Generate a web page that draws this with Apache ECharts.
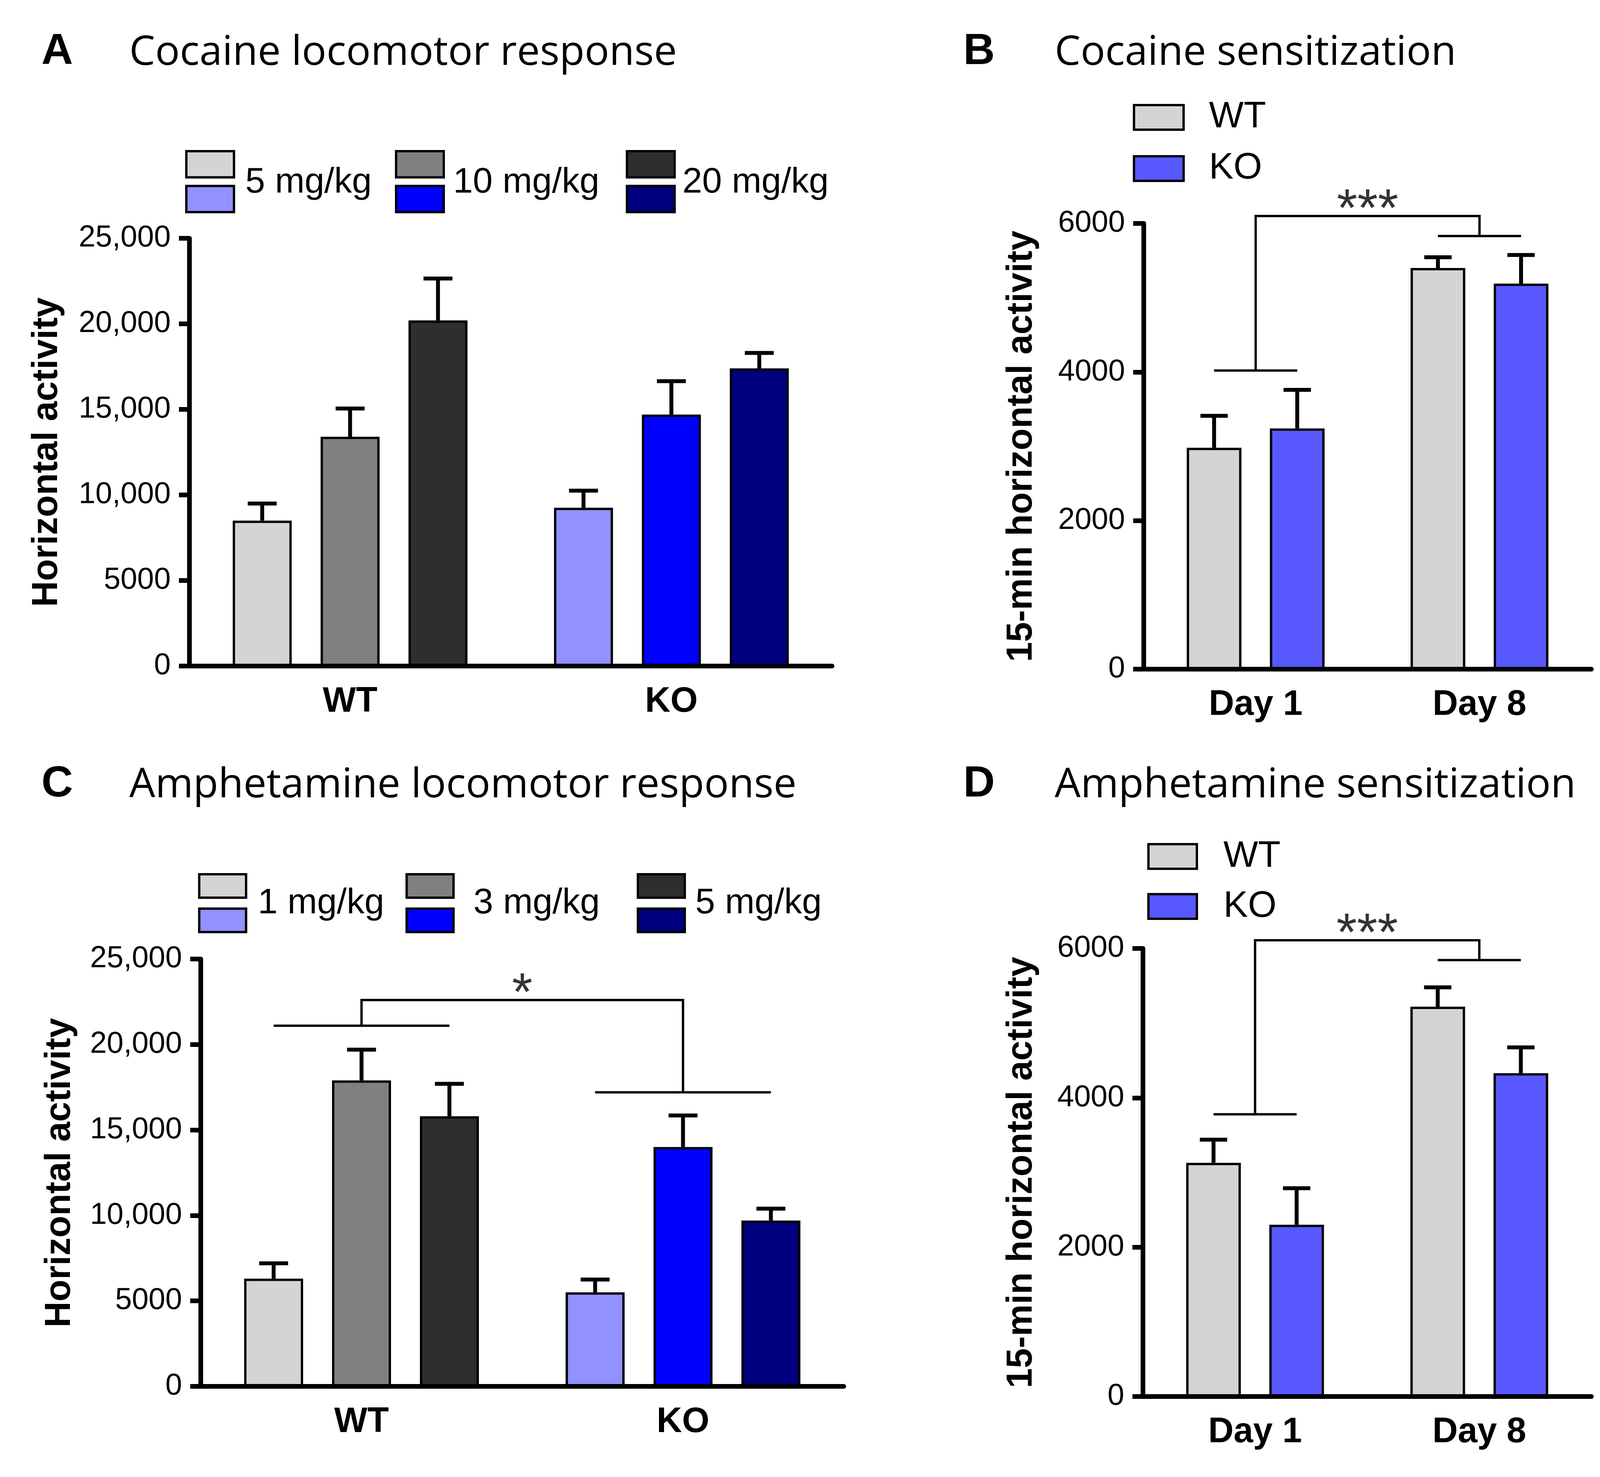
<!DOCTYPE html>
<html>
<head>
<meta charset="utf-8">
<script src="https://cdn.jsdelivr.net/npm/echarts@6/dist/echarts.min.js"></script>
<style>html,body{margin:0;padding:0;background:#fff}#c{width:4184px;height:3781px}</style>
</head>
<body>
<div id="c"></div>
<script>
// ---------- data ----------
const genotypes = ['WT', 'KO'];
const days = ['Day 1', 'Day 8'];
const cocaineDoses = ['5 mg/kg', '10 mg/kg', '20 mg/kg'];
const amphDoses = ['1 mg/kg', '3 mg/kg', '5 mg/kg'];
const locoTicks = ['0', '5000', '10,000', '15,000', '20,000', '25,000'];
const sensTicks = ['0', '2000', '4000', '6000'];

// Panel A: cocaine locomotor response, per dose [WT, KO]
const cocLocoMean = [[8500, 9250], [13400, 14700], [20200, 17400]];
const cocLocoSem  = [[1000, 1000], [1650, 1950], [2450, 900]];
// Panel C: amphetamine locomotor response, per dose [WT, KO]
const ampLocoMean = [[6300, 5500], [17900, 14000], [15800, 9700]];
const ampLocoSem  = [[900, 750], [1800, 1850], [1900, 700]];
// Panel B: cocaine sensitization [Day 1, Day 8]
const cocSensWT = [2980, 5400];
const cocSensKO = [3240, 5190];
const cocSensWTSem = [430, 145];
const cocSensKOSem = [520, 385];
// Panel D: amphetamine sensitization [Day 1, Day 8]
const ampSensWT = [3130, 5220];
const ampSensKO = [2300, 4330];
const ampSensWTSem = [310, 260];
const ampSensKOSem = [490, 345];
// significance brackets: [left group line, top line, right group line]
const bracketB = [4020, 6100, 5830];
const bracketC = [21100, 22600, 17200];
const bracketD = [3780, 6110, 5845];

// ---------- styles ----------
const greyColors = ['#d4d4d4', '#808080', '#2e2e2e'];
const blueColors = ['#9191ff', '#0000ff', '#000080'];
const wtColor = '#d4d4d4';
const koColor = '#5858ff';
const AR = '"Liberation Sans", Arial, sans-serif';
const TITLE = '"Open Sans", "Noto Sans", sans-serif';

const BW_L = 151, GAP_L = 0.49;   // locomotor panels
const BW_S = 140, GAP_S = 0.52;   // sensitization panels

const grids = [
  {left: 485, top: 610, width: 1645, height: 1095},
  {left: 2928, top: 572, width: 1146, height: 1141},
  {left: 514, top: 2455, width: 1646, height: 1094},
  {left: 2926, top: 2428, width: 1148, height: 1147}
];

const chart = echarts.init(document.getElementById('c'), null, {width: 4184, height: 3781});

function catAxis(gi, data) {
  return {
    type: 'category', gridIndex: gi, data: data,
    axisLine: {lineStyle: {color: '#000', width: 12}},
    axisTick: {alignWithLabel: true, length: 27, lineStyle: {color: '#000', width: 12}},
    axisLabel: {color: '#000', fontFamily: AR, fontWeight: 'bold', fontSize: 90, margin: 47}
  };
}
function valAxis(gi, max, interval, ticks, name, gap) {
  return {
    type: 'value', gridIndex: gi, min: 0, max: max, interval: interval,
    splitLine: {show: false},
    axisLine: {show: true, lineStyle: {color: '#000', width: 12}},
    axisTick: {show: true, length: 27, lineStyle: {color: '#000', width: 12}},
    axisLabel: {color: '#000', fontFamily: AR, fontSize: 77, margin: 48,
      formatter: v => ticks[Math.round(v / interval)]},
    name: name, nameLocation: 'middle', nameRotate: 90, nameGap: gap,
    nameTextStyle: {color: '#000', fontFamily: AR, fontWeight: 'bold', fontSize: 92}
  };
}
function hiddenX(gi) {
  return {type: 'value', gridIndex: gi, min: 0, max: 2, show: false};
}

function errRender(step, nBars, capHalf) {
  return function (params, api) {
    const cat = api.value(0), idx = api.value(1);
    const base = api.coord([cat, api.value(2)]);
    const top = api.coord([cat, api.value(3)]);
    const x = base[0] + (idx - (nBars - 1) / 2) * step;
    const style = {stroke: '#000', lineWidth: 10};
    return {type: 'group', children: [
      {type: 'line', shape: {x1: x, y1: base[1], x2: x, y2: top[1]}, style: style},
      {type: 'line', shape: {x1: x - capHalf, y1: top[1], x2: x + capHalf, y2: top[1]}, style: style}
    ]};
  };
}

const series = [];
function addLoco(gi, doses, mean, sem) {
  doses.forEach((d, i) => {
    series.push({
      type: 'bar', name: d, xAxisIndex: gi, yAxisIndex: gi,
      barWidth: BW_L, barGap: (GAP_L * 100) + '%',
      data: mean[i].map((v, g) => ({value: v, itemStyle: {color: g === 0 ? greyColors[i] : blueColors[i]}})),
      itemStyle: {borderColor: '#000', borderWidth: 6},
      silent: true
    });
  });
  const err = [];
  doses.forEach((d, i) => mean[i].forEach((v, g) => err.push([g, i, v, v + sem[i][g]])));
  series.push({
    type: 'custom', xAxisIndex: gi, yAxisIndex: gi, data: err, encode: {x: 0, y: 3},
    renderItem: errRender(BW_L * (1 + GAP_L), doses.length, 37), silent: true, z: 3
  });
}
addLoco(0, cocaineDoses, cocLocoMean, cocLocoSem);
addLoco(2, amphDoses, ampLocoMean, ampLocoSem);

function addSens(gi, wt, ko, wtSem, koSem) {
  [[wt, wtColor, 'WT'], [ko, koColor, 'KO']].forEach(([vals, col, nm]) => {
    series.push({
      type: 'bar', name: nm, xAxisIndex: gi, yAxisIndex: gi,
      barWidth: BW_S, barGap: (GAP_S * 100) + '%',
      data: vals, itemStyle: {color: col, borderColor: '#000', borderWidth: 6}, silent: true
    });
  });
  const err = [];
  [wt, ko].forEach((vals, i) => vals.forEach((v, c) => err.push([c, i, v, v + (i === 0 ? wtSem : koSem)[c]])));
  series.push({
    type: 'custom', xAxisIndex: gi, yAxisIndex: gi, data: err, encode: {x: 0, y: 3},
    renderItem: errRender(BW_S * (1 + GAP_S), 2, 35), silent: true, z: 3
  });
}
addSens(1, cocSensWT, cocSensKO, cocSensWTSem, cocSensKOSem);
addSens(3, ampSensWT, ampSensKO, ampSensWTSem, ampSensKOSem);

// significance brackets on hidden value x-axes (category k centred at k+0.5)
function addBracket(xi, yi, yv, halfSpan, stars) {
  const lines = [
    [[0.5 - halfSpan, yv[0]], [0.5 + halfSpan, yv[0]]],
    [[0.5, yv[0]], [0.5, yv[1]], [1.5, yv[1]], [1.5, yv[2]]],
    [[1.5 - halfSpan, yv[2]], [1.5 + halfSpan, yv[2]]]
  ];
  series.push({
    type: 'lines', coordinateSystem: 'cartesian2d', xAxisIndex: xi, yAxisIndex: yi,
    polyline: true, clip: false, silent: true,
    lineStyle: {color: '#000', width: 6, opacity: 1, curveness: 0},
    data: lines.map(c => ({coords: c}))
  });
  series.push({
    type: 'scatter', xAxisIndex: xi, yAxisIndex: yi, clip: false, silent: true,
    symbolSize: 0, data: [[1, yv[1]]],
    label: {show: true, formatter: stars, position: 'top', distance: 0, offset: [0, 55],
      color: '#000', fontFamily: AR, fontSize: 135}
  });
}
addBracket(4, 1, bracketB, BW_S * (1 + GAP_S) / 2 / (grids[1].width / 2), '***');
addBracket(5, 2, bracketC, BW_L * (1 + GAP_L) / (grids[2].width / 2), '*');
addBracket(6, 3, bracketD, BW_S * (1 + GAP_S) / 2 / (grids[3].width / 2), '***');

// ---------- titles and legends ----------
const graphics = [];
function txt(x, y, s, size, fam, weight) {
  graphics.push({type: 'text', x: x, y: y, style: {text: s, fill: '#000', font: (weight || 'normal') + ' ' + size + 'px ' + fam, textVerticalAlign: 'middle', textAlign: 'left'}});
}
function box(x, y, w, h, col) {
  graphics.push({type: 'rect', shape: {x: x, y: y, width: w, height: h}, style: {fill: col, stroke: '#000', lineWidth: 6}});
}
txt(106, 133, 'A', 112, AR, 'bold');
txt(331, 136, 'Cocaine locomotor response', 105, TITLE);
txt(2466, 133, 'B', 112, AR, 'bold');
txt(2700, 136, 'Cocaine sensitization', 105, TITLE);
txt(106, 2008, 'C', 112, AR, 'bold');
txt(331, 2011, 'Amphetamine locomotor response', 105, TITLE);
txt(2466, 2008, 'D', 112, AR, 'bold');
txt(2700, 2011, 'Amphetamine sensitization', 105, TITLE);

// legend A
[[477, 628], [1014, 1160], [1605, 1747]].forEach(([bx, tx], i) => {
  box(bx, 387, 122, 67, greyColors[i]);
  box(bx, 476, 122, 67, blueColors[i]);
  txt(tx, 468, cocaineDoses[i], 91, AR);
});
// legend C
[[510, 660], [1041, 1212], [1633, 1780]].forEach(([bx, tx], i) => {
  box(bx, 2238, 120, 60, greyColors[i]);
  box(bx, 2326, 120, 60, blueColors[i]);
  txt(tx, 2313, amphDoses[i], 91, AR);
});
// legend B
box(2903, 269, 127, 63, wtColor); txt(3095, 300, 'WT', 94, AR);
box(2903, 400, 127, 63, koColor); txt(3095, 431, 'KO', 94, AR);
// legend D
box(2940, 2161, 124, 63, wtColor); txt(3132, 2193, 'WT', 94, AR);
box(2940, 2289, 124, 63, koColor); txt(3132, 2321, 'KO', 94, AR);

chart.setOption({
  animation: false,
  backgroundColor: '#fff',
  grid: grids.map(g => Object.assign({containLabel: false, outerBoundsMode: 'none'}, g)),
  xAxis: [catAxis(0, genotypes), catAxis(1, days), catAxis(2, genotypes), catAxis(3, days),
          hiddenX(1), hiddenX(2), hiddenX(3)],
  yAxis: [
    valAxis(0, 25000, 5000, locoTicks, 'Horizontal activity', 318),
    valAxis(1, 6000, 2000, sensTicks, '15-min horizontal activity', 266),
    valAxis(2, 25000, 5000, locoTicks, 'Horizontal activity', 314),
    valAxis(3, 6000, 2000, sensTicks, '15-min horizontal activity', 264)
  ],
  series: series,
  graphic: graphics
});
</script>
</body>
</html>
